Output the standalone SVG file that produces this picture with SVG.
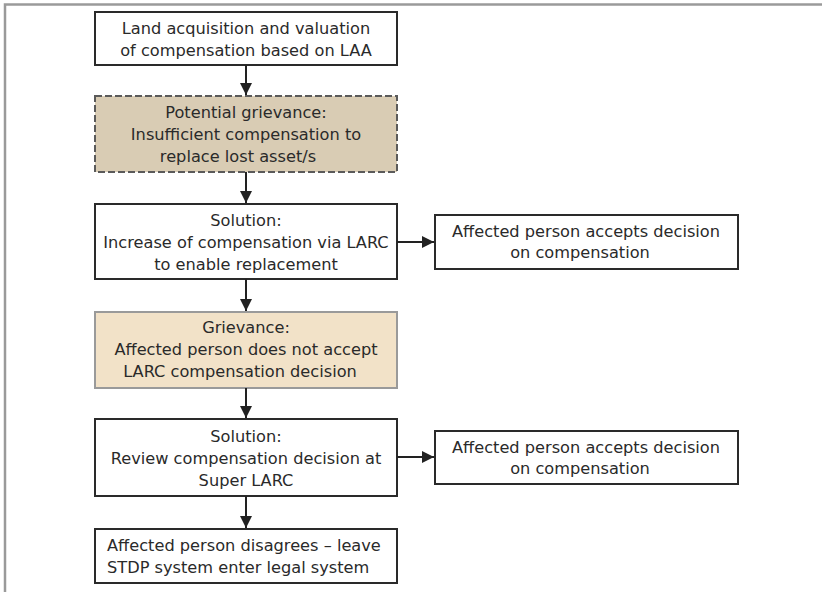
<svg xmlns="http://www.w3.org/2000/svg" width="822" height="592" viewBox="0 0 822 592">
<style>
.box{fill:#fff;stroke:#2a2a2a;stroke-width:2}
.pot{fill:#d9ccb4;stroke:#5a5a5a;stroke-width:2;stroke-dasharray:7,3}
.griev{fill:#f2e2c8;stroke:#9a9a9a;stroke-width:2}
.t{font-family:"DejaVu Sans",Verdana,sans-serif;font-size:16.2px;fill:#2a2a2a;text-anchor:middle}
.tl{text-anchor:start}
.c{stroke:#222;stroke-width:2;fill:none;marker-end:url(#ah)}
</style>
<defs>
<marker id="ah" viewBox="0 0 12 12" refX="12" refY="6" markerWidth="12" markerHeight="12" markerUnits="userSpaceOnUse" orient="auto">
<path d="M0,0 L12,6 L0,12 Z" fill="#222"/>
</marker>
</defs>
<rect width="822" height="592" fill="#fff"/>
<g id="frame">
<path d="M5,592 V4.5 H822" fill="none" stroke="#9a9a9a" stroke-width="2.5"/>
</g>
<g id="n1">
<rect class="box" x="95" y="12" width="302" height="53"/>
<text class="t" x="246" y="34">Land acquisition and valuation</text>
<text class="t" x="246" y="56">of compensation based on LAA</text>
</g>
<g id="n2">
<rect class="pot" x="95" y="96" width="302" height="76"/>
<text class="t" x="246" y="118">Potential grievance:</text>
<text class="t" x="246" y="140">Insufficient compensation to</text>
<text class="t" x="238" y="162">replace lost asset/s</text>
</g>
<g id="n3">
<rect class="box" x="95" y="204" width="302" height="75"/>
<text class="t" x="246" y="226">Solution:</text>
<text class="t" x="246" y="248">Increase of compensation via LARC</text>
<text class="t" x="246" y="270">to enable replacement</text>
</g>
<g id="n4">
<rect class="box" x="435" y="215" width="303" height="54"/>
<text class="t" x="586" y="237">Affected person accepts decision</text>
<text class="t" x="580" y="258">on compensation</text>
</g>
<g id="n5">
<rect class="griev" x="95" y="312" width="302" height="76"/>
<text class="t" x="246" y="333">Grievance:</text>
<text class="t" x="246" y="355">Affected person does not accept</text>
<text class="t" x="240" y="377">LARC compensation decision</text>
</g>
<g id="n6">
<rect class="box" x="95" y="419" width="302" height="77"/>
<text class="t" x="246" y="442">Solution:</text>
<text class="t" x="246" y="464">Review compensation decision at</text>
<text class="t" x="246" y="486">Super LARC</text>
</g>
<g id="n7">
<rect class="box" x="435" y="431" width="303" height="53"/>
<text class="t" x="586" y="453">Affected person accepts decision</text>
<text class="t" x="580" y="474">on compensation</text>
</g>
<g id="n8">
<rect class="box" x="95" y="529" width="302" height="54"/>
<text class="t tl" x="107" y="551">Affected person disagrees – leave</text>
<text class="t tl" x="107" y="573">STDP system enter legal system</text>
</g>
<g id="connectors">
<line class="c" x1="246" y1="65" x2="246" y2="95"/>
<line class="c" x1="246" y1="172" x2="246" y2="203"/>
<line class="c" x1="397" y1="242" x2="434" y2="242"/>
<line class="c" x1="246" y1="279" x2="246" y2="311"/>
<line class="c" x1="246" y1="388" x2="246" y2="418"/>
<line class="c" x1="397" y1="457" x2="434" y2="457"/>
<line class="c" x1="246" y1="496" x2="246" y2="528"/>
</g>
</svg>
